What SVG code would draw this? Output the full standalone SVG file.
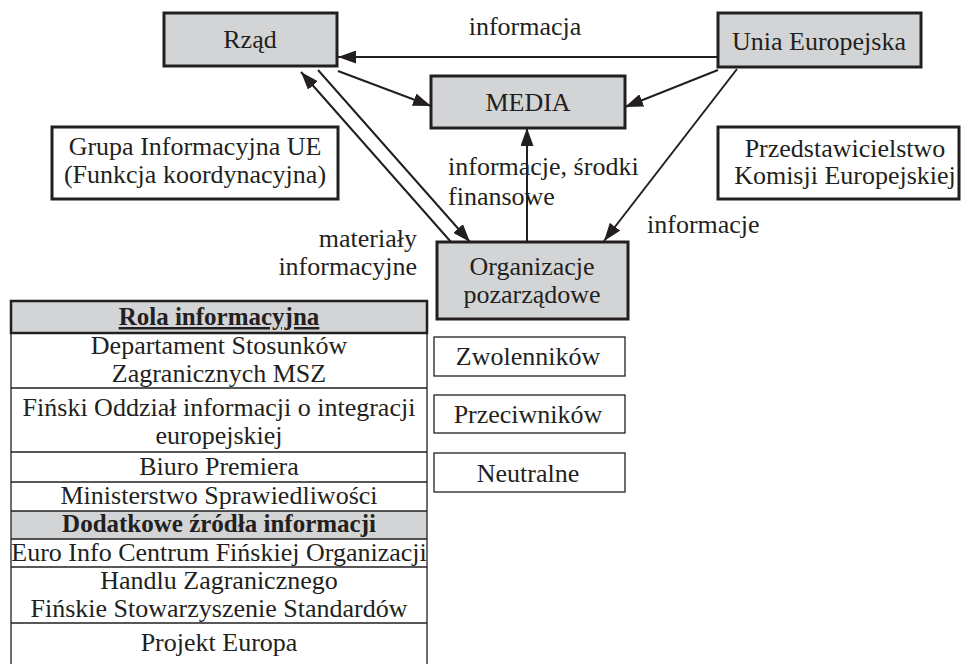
<svg xmlns="http://www.w3.org/2000/svg" width="962" height="664" viewBox="0 0 962 664" font-family="Liberation Serif, Times New Roman, serif">
<defs>
<style>
text{font-family:Liberation Serif, Times New Roman, serif;font-size:26px;fill:#231f20}
.c{text-anchor:middle}
.r{text-anchor:end}
.b{font-weight:bold;font-size:25px}
.main{fill:#d3d4d6;stroke:#231f20;stroke-width:3}
.note{fill:#fff;stroke:#231f20;stroke-width:3}
.thin{fill:#fff;stroke:#231f20;stroke-width:1.3}
.ln{stroke:#231f20;stroke-width:1.3;fill:none}
.conn line{stroke:#231f20;stroke-width:2;fill:none}
</style>
<marker id="ah" viewBox="0 0 18 13" refX="18" refY="6.5" markerWidth="18" markerHeight="13" markerUnits="userSpaceOnUse" orient="auto">
<path d="M0,0 L18,6.5 L0,13 Z" fill="#231f20"/>
</marker>
</defs>
<rect width="962" height="664" fill="#fff"/>

<g id="connectors" class="conn">
<line x1="718" y1="57" x2="338" y2="57" marker-end="url(#ah)"/>
<line x1="338" y1="71" x2="431" y2="106" marker-end="url(#ah)"/>
<line x1="718" y1="70" x2="625" y2="107" marker-end="url(#ah)"/>
<line x1="737" y1="69" x2="604" y2="241" marker-end="url(#ah)"/>
<line x1="527" y1="242" x2="527" y2="128" marker-end="url(#ah)"/>
<line x1="451" y1="242" x2="301" y2="72" marker-end="url(#ah)"/>
<line x1="318" y1="70" x2="470" y2="242" marker-end="url(#ah)"/>
</g>

<g id="labels">
<text class="c" x="525" y="35">informacja</text>
<text x="448" y="175">informacje, środki</text>
<text x="448" y="205">finansowe</text>
<text class="r" x="417" y="247">materiały</text>
<text class="r" x="417" y="275">informacyjne</text>
<text x="647" y="233">informacje</text>
</g>

<g id="rzad">
<rect class="main" x="164" y="13" width="173" height="53"/>
<text class="c" x="250" y="48">Rząd</text>
</g>
<g id="ue">
<rect class="main" x="718" y="13" width="203" height="54"/>
<text class="c" x="819" y="50">Unia Europejska</text>
</g>
<g id="media">
<rect class="main" x="431" y="76" width="194" height="52"/>
<text class="c" x="528" y="111">MEDIA</text>
</g>
<g id="grupa">
<rect class="note" x="52" y="127" width="286" height="72"/>
<text class="c" x="195" y="155">Grupa Informacyjna UE</text>
<text class="c" x="195" y="183">(Funkcja koordynacyjna)</text>
</g>
<g id="przedstawicielstwo">
<rect class="note" x="718" y="127" width="241" height="72"/>
<text class="c" x="845" y="157">Przedstawicielstwo</text>
<text class="c" x="845" y="184">Komisji Europejskiej</text>
</g>
<g id="organizacje">
<rect class="main" x="437" y="242" width="191" height="77"/>
<text class="c" x="532" y="275">Organizacje</text>
<text class="c" x="532" y="303">pozarządowe</text>
</g>
<g id="zwolennikow">
<rect class="thin" x="434" y="337" width="191" height="39"/>
<text class="c" x="528" y="365">Zwolenników</text>
</g>
<g id="przeciwnikow">
<rect class="thin" x="434" y="395" width="191" height="38"/>
<text class="c" x="528" y="423">Przeciwników</text>
</g>
<g id="neutralne">
<rect class="thin" x="434" y="453" width="191" height="39"/>
<text class="c" x="528" y="482">Neutralne</text>
</g>

<g id="tabela">
<rect x="11" y="511" width="416" height="28" fill="#d3d4d6"/>
<line class="ln" x1="11" y1="333" x2="11" y2="664"/>
<line class="ln" x1="427" y1="333" x2="427" y2="664"/>
<line class="ln" x1="11" y1="388" x2="427" y2="388"/>
<line class="ln" x1="11" y1="452" x2="427" y2="452"/>
<line class="ln" x1="11" y1="482" x2="427" y2="482"/>
<line class="ln" x1="11" y1="511" x2="427" y2="511"/>
<line class="ln" x1="11" y1="539" x2="427" y2="539"/>
<line class="ln" x1="11" y1="567" x2="427" y2="567"/>
<line class="ln" x1="11" y1="623" x2="427" y2="623"/>
<rect x="11" y="301" width="416" height="32" fill="#d3d4d6" stroke="#231f20" stroke-width="2.5"/>
<text class="c b" x="219" y="325" text-decoration="underline">Rola informacyjna</text>
<text class="c" x="219" y="354">Departament Stosunków</text>
<text class="c" x="219" y="382">Zagranicznych MSZ</text>
<text class="c" x="219" y="416">Fiński Oddział informacji o integracji</text>
<text class="c" x="219" y="444">europejskiej</text>
<text class="c" x="219" y="475">Biuro Premiera</text>
<text class="c" x="219" y="504">Ministerstwo Sprawiedliwości</text>
<text class="c b" x="219" y="532">Dodatkowe źródła informacji</text>
<text class="c" x="219" y="561">Euro Info Centrum Fińskiej Organizacji</text>
<text class="c" x="219" y="589">Handlu Zagranicznego</text>
<text class="c" x="219" y="617">Fińskie Stowarzyszenie Standardów</text>
<text class="c" x="219" y="651">Projekt Europa</text>
</g>
</svg>
